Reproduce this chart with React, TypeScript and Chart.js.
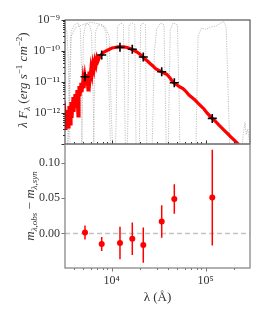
import React, { useEffect, useRef } from 'react';
import { Chart, registerables } from 'chart.js';

Chart.register(...registerables);

// ---------- canvas / panel geometry ----------
const W = 266;
const H = 319;
const AREA_LEFT = 65;
const AREA_RIGHT = 250;
const TOP_PANEL_TOP = 20;
const PANEL_SPLIT = 144;
const BOTTOM_PANEL_BOTTOM = 268;

// ---------- axis limits ----------
const xMin = 3186;
const xMax = 296000;
const fluxMin = 1.0e-13;
const fluxMax = 1.0e-9;
const resMin = -0.049;
const resMax = 0.127;

// ---------- ticks ----------
const xMajorTicks = [1e4, 1e5];
const xTickLabels = ['10⁴', '10⁵'];
const xMinorTicks = [4000, 5000, 6000, 7000, 8000, 9000, 20000, 30000, 40000, 50000, 60000, 70000, 80000, 90000, 200000];
const fluxMajorTicks = [1e-13, 1e-12, 1e-11, 1e-10, 1e-9];
const fluxTickLabels = ['', '10⁻¹²', '10⁻¹¹', '10⁻¹⁰', '10⁻⁹'];
const fluxMinorTicks = [
  2e-13, 3e-13, 4e-13, 5e-13, 6e-13, 7e-13, 8e-13, 9e-13,
  2e-12, 3e-12, 4e-12, 5e-12, 6e-12, 7e-12, 8e-12, 9e-12,
  2e-11, 3e-11, 4e-11, 5e-11, 6e-11, 7e-11, 8e-11, 9e-11,
  2e-10, 3e-10, 4e-10, 5e-10, 6e-10, 7e-10, 8e-10, 9e-10,
];
const resTicks = [0, 0.05, 0.1];
const resTickLabels = ['0.00', '0.05', '0.10'];

// ---------- photometry (crosses) ----------
const photWave = [5200, 7830, 12250, 16560, 21680, 34040, 46360, 117500];
const photFlux = [1.48e-11, 7.4e-11, 1.31e-10, 1.14e-10, 6.4e-11, 2.15e-11, 9.5e-12, 6.7e-13];

// ---------- residuals ----------
const resValue = [0.0014, -0.015, -0.0136, -0.0075, -0.0165, 0.017, 0.049, 0.051];
const resError = [0.010, 0.010, 0.023, 0.023, 0.025, 0.023, 0.021, 0.068];

// ---------- model spectrum ----------
const modelWave = [
  3109, 3186, 3265, 3346, 3429, 3513, 3602, 3690, 3782, 3876, 3972, 4071, 4172, 4275, 4381, 4489,
  4601, 4715, 4831, 4952, 5074, 5200, 5329, 5461, 5597, 5735, 5877, 6023, 6172, 6325, 6482, 6642,
  6808, 6976, 7150, 7508, 7886, 8282, 8697, 9134, 9592, 10074, 10842, 11668, 12559, 13520, 14550,
  15650, 16850, 18130, 19520, 21010, 22610, 24330, 25550, 27500, 29600, 31860, 33460, 36010, 38760,
  41710, 43810, 46010, 49520, 53300, 57370, 61720, 66430, 71500, 76950, 82810, 89130, 95920, 103230,
  111100, 119600, 128700, 138500, 149100, 160400, 172700, 185800, 200000, 215300, 226100,
];
const modelFlux = [
  5.13e-13, 8.61e-13, 2.83e-13, 1.25e-12, 3.53e-13, 1.68e-12, 4.42e-13, 2.26e-12, 6.9e-13, 3.28e-12,
  1.08e-12, 4.1e-12, 1.45e-12, 5.52e-12, 8.0e-13, 7.43e-12, 3.53e-12, 9.29e-12, 4.75e-12, 1.16e-11,
  6.4e-12, 1.45e-11, 8.61e-12, 1.81e-11, 5.52e-12, 2.18e-11, 1.25e-11, 2.83e-11, 1.81e-11, 3.81e-11,
  2.62e-11, 4.75e-11, 3.53e-11, 5.94e-11, 4.75e-11, 6.9e-11, 8.0e-11, 9.29e-11, 1.0e-10, 1.08e-10,
  1.16e-10, 1.25e-10, 1.3e-10, 1.35e-10, 1.35e-10, 1.35e-10, 1.3e-10, 1.2e-10, 1.08e-10, 9.64e-11,
  8.3e-11, 6.9e-11, 5.52e-11, 4.58e-11, 3.95e-11, 3.28e-11, 2.62e-11, 2.35e-11, 2.18e-11, 1.95e-11,
  1.75e-11, 1.35e-11, 1.08e-11, 9.29e-12, 8.0e-12, 6.9e-12, 6.17e-12, 4.94e-12, 3.81e-12, 3.16e-12,
  2.62e-12, 2.1e-12, 1.68e-12, 1.35e-12, 1.0e-12, 8.0e-13, 6.4e-13, 5.13e-13, 4.1e-13, 3.28e-13,
  2.62e-13, 2.1e-13, 1.68e-13, 1.35e-13, 1.08e-13, 9.29e-14,
];

// ---------- filter transmission curves (scaled) ----------
const filterUWave = [3000, 3200, 3350, 3450, 3520, 3600, 3700];
const filterUFlux = [7e-10, 6e-10, 4e-10, 6e-11, 2e-12, 1e-13, 1e-14];
const filterBWave = [3300, 3500, 3600, 3700, 4000, 4400, 4650, 4780, 4850, 4950];
const filterBFlux = [1e-14, 1e-12, 5e-11, 4e-10, 7e-10, 8e-10, 5e-10, 2e-11, 1e-13, 1e-14];
const filterGWave = [3300, 3550, 3700, 4200, 6000, 8000, 8700, 9300, 9700, 10200];
const filterGFlux = [1e-14, 1e-12, 3e-10, 6e-10, 8.5e-10, 7e-10, 4e-10, 1e-11, 1e-13, 1e-14];
const filterVWave = [4700, 4850, 5000, 5300, 5800, 6100, 6300, 6500, 6700];
const filterVFlux = [1e-14, 1e-12, 3e-10, 7.5e-10, 7e-10, 4e-10, 1e-11, 1e-13, 1e-14];
const filterIWave = [6300, 6500, 6700, 7200, 8500, 9400, 9900, 10200, 10500];
const filterIFlux = [1e-14, 1e-12, 4e-10, 7e-10, 6e-10, 3e-10, 1e-12, 1e-13, 1e-14];
const filterJWave = [10800, 11200, 11500, 12500, 13300, 13800, 14200];
const filterJFlux = [1e-14, 1e-12, 6e-10, 8e-10, 7e-10, 1e-12, 1e-14];
const filterHWave = [14500, 14900, 15300, 16500, 17600, 18000, 18300];
const filterHFlux = [1e-14, 1e-12, 7e-10, 8e-10, 7e-10, 1e-12, 1e-14];
const filterKWave = [19500, 19900, 20300, 21500, 22900, 23400, 23800];
const filterKFlux = [1e-14, 1e-12, 7e-10, 8e-10, 7e-10, 1e-12, 1e-14];
const filterW1Wave = [26500, 27500, 28500, 30000, 33000, 36000, 37500, 38500];
const filterW1Flux = [1e-14, 1e-12, 1e-10, 5e-10, 8e-10, 7e-10, 1e-12, 1e-14];
const filterW2Wave = [39500, 40500, 42000, 45000, 50000, 52500, 53500];
const filterW2Flux = [1e-14, 1e-12, 5e-10, 8e-10, 7e-10, 1e-12, 1e-14];
const filterW3Wave = [78000, 80000, 83000, 90000, 100000, 115000, 130000, 145000, 155000, 165000, 172000, 180000, 190000];
const filterW3Flux = [1e-14, 1e-12, 3e-10, 5.5e-10, 5e-10, 6e-10, 6.5e-10, 8e-10, 9e-10, 6e-10, 1e-11, 1e-13, 1e-14];
const filterW4Wave = [200000, 230000, 245000, 255000, 262000, 270000, 280000, 296000];
const filterW4Flux = [1e-14, 1e-14, 1e-13, 3e-13, 5e-13, 2e-13, 3e-13, 1e-13];

const filterWaves = [filterUWave, filterBWave, filterGWave, filterVWave, filterIWave, filterJWave, filterHWave, filterKWave, filterW1Wave, filterW2Wave, filterW3Wave, filterW4Wave];
const filterFluxes = [filterUFlux, filterBFlux, filterGFlux, filterVFlux, filterIFlux, filterJFlux, filterHFlux, filterKFlux, filterW1Flux, filterW2Flux, filterW3Flux, filterW4Flux];

// ---------- style ----------
const FONT = "'Liberation Serif', 'DejaVu Serif', serif";
const TEXT = '#333333';

type Part = { t: string; size: number; italic?: boolean; dy?: number };

function drawRich(ctx: CanvasRenderingContext2D, parts: Part[], x: number, y: number, vertical: boolean) {
  ctx.save();
  ctx.translate(x, y);
  if (vertical) ctx.rotate(-Math.PI / 2);
  ctx.fillStyle = TEXT;
  ctx.textBaseline = 'alphabetic';
  ctx.textAlign = 'left';
  const fontOf = (p: Part) => `${p.italic ? 'italic ' : ''}${p.size}px ${FONT}`;
  let total = 0;
  for (const p of parts) {
    ctx.font = fontOf(p);
    total += ctx.measureText(p.t).width;
  }
  let cx = -total / 2;
  for (const p of parts) {
    ctx.font = fontOf(p);
    ctx.fillText(p.t, cx, p.dy || 0);
    cx += ctx.measureText(p.t).width;
  }
  ctx.restore();
}

type TickSpec = {
  axis: 'x' | 'y';
  major: number[];
  minor: number[];
  dir: number;
  color: string;
};

function axesPlugin(id: string, specs: TickSpec[], frameColor: string, frameWidth: number, titles: (ctx: CanvasRenderingContext2D) => void) {
  return {
    id,
    afterDraw(chart: any) {
      const ctx: CanvasRenderingContext2D = chart.ctx;
      const a = chart.chartArea;
      ctx.save();
      for (const s of specs) {
        const scale = chart.scales[s.axis];
        ctx.strokeStyle = s.color;
        ctx.lineWidth = 1;
        const groups: [number[], number][] = [[s.major, 3.5], [s.minor, 2]];
        for (const [vals, len] of groups) {
          for (const v of vals) {
            if (v < scale.min || v > scale.max) continue;
            const p = Math.round(scale.getPixelForValue(v)) + 0.5;
            ctx.beginPath();
            if (s.axis === 'x') {
              ctx.moveTo(p, a.bottom);
              ctx.lineTo(p, a.bottom + s.dir * len);
            } else {
              ctx.moveTo(a.left, p);
              ctx.lineTo(a.left + s.dir * len, p);
            }
            ctx.stroke();
          }
        }
      }
      ctx.strokeStyle = frameColor;
      ctx.lineWidth = frameWidth;
      ctx.strokeRect(a.left, a.top, a.right - a.left, a.bottom - a.top);
      titles(ctx);
      ctx.restore();
    },
  };
}

export default function App() {
  const topRef = useRef<HTMLCanvasElement>(null);
  const botRef = useRef<HTMLCanvasElement>(null);

  useEffect(() => {
    const filterSets = filterWaves.map((wv, k) => ({
      data: wv.map((w, i) => ({ x: w, y: filterFluxes[k][i] })),
      borderColor: 'rgba(150,150,150,0.75)',
      borderWidth: 0.8,
      borderDash: [1.2, 1.2],
      pointRadius: 0,
      fill: false,
      order: 3,
    }));

    const topChart = new Chart(topRef.current as HTMLCanvasElement, {
      type: 'line',
      data: {
        datasets: [
          ...filterSets,
          {
            data: modelWave.map((w, i) => ({ x: w, y: modelFlux[i] })),
            borderColor: '#ff0000',
            borderWidth: 3.2,
            pointRadius: 0,
            fill: false,
            order: 2,
          },
          {
            data: photWave.map((w, i) => ({ x: w, y: photFlux[i] })),
            showLine: false,
            pointStyle: 'cross',
            pointRadius: 4.5,
            borderColor: '#000000',
            borderWidth: 1.6,
            order: 1,
          },
        ] as any,
      },
      options: {
        responsive: false,
        animation: false,
        devicePixelRatio: 1,
        layout: { padding: { left: 0, right: W - AREA_RIGHT, top: TOP_PANEL_TOP, bottom: H - PANEL_SPLIT } },
        plugins: { legend: { display: false }, tooltip: { enabled: false } },
        scales: {
          x: {
            type: 'logarithmic',
            min: xMin,
            max: xMax,
            grid: { display: false, drawTicks: false },
            border: { display: false },
            ticks: { display: false },
            afterFit: (s: any) => { s.height = 0; },
          },
          y: {
            type: 'logarithmic',
            min: fluxMin,
            max: fluxMax,
            grid: { display: false, drawTicks: false },
            border: { display: false },
            afterBuildTicks: (ax: any) => { ax.ticks = fluxMajorTicks.map((v) => ({ value: v })); },
            ticks: {
              autoSkip: false,
              padding: 5,
              color: TEXT,
              font: { family: FONT, size: 12 },
              callback: (v: any) => {
                const i = fluxMajorTicks.indexOf(Number(v));
                return i >= 0 ? fluxTickLabels[i] : '';
              },
            },
            afterFit: (s: any) => { s.width = AREA_LEFT; },
          },
        },
      } as any,
      plugins: [
        axesPlugin('topAxes', [
          { axis: 'x', major: xMajorTicks, minor: xMinorTicks, dir: -1, color: '#333' },
          { axis: 'y', major: fluxMajorTicks, minor: fluxMinorTicks, dir: -1, color: '#333' },
        ], '#333333', 1, (ctx) => {
          drawRich(ctx, [
            { t: 'λ ', size: 13, italic: true },
            { t: 'F', size: 13, italic: true },
            { t: 'λ', size: 9, italic: true, dy: 2.5 },
            { t: ' (', size: 13 },
            { t: 'erg s', size: 13, italic: true },
            { t: '−1', size: 9, dy: -5 },
            { t: ' cm', size: 13, italic: true },
            { t: '−2', size: 9, dy: -5 },
            { t: ')', size: 13 },
          ], 27, 80, true);
        }),
      ],
    });

    const errData: any[] = [];
    photWave.forEach((w, i) => {
      errData.push({ x: w, y: resValue[i] - resError[i] });
      errData.push({ x: w, y: resValue[i] + resError[i] });
      errData.push({ x: w, y: null });
    });

    const botChart = new Chart(botRef.current as HTMLCanvasElement, {
      type: 'line',
      data: {
        datasets: [
          {
            data: [{ x: xMin, y: 0 }, { x: xMax, y: 0 }],
            borderColor: '#c4c4c4',
            borderWidth: 1.4,
            borderDash: [5, 3],
            pointRadius: 0,
            order: 3,
          },
          {
            data: errData,
            borderColor: '#ff0000',
            borderWidth: 1.5,
            pointRadius: 0,
            spanGaps: false,
            order: 2,
          },
          {
            data: photWave.map((w, i) => ({ x: w, y: resValue[i] })),
            showLine: false,
            pointStyle: 'circle',
            pointRadius: 3,
            backgroundColor: '#ff0000',
            borderWidth: 0,
            order: 1,
          },
        ] as any,
      },
      options: {
        responsive: false,
        animation: false,
        devicePixelRatio: 1,
        layout: { padding: { left: 0, right: W - AREA_RIGHT, top: PANEL_SPLIT, bottom: 0 } },
        plugins: { legend: { display: false }, tooltip: { enabled: false } },
        scales: {
          x: {
            type: 'logarithmic',
            min: xMin,
            max: xMax,
            grid: { display: false, drawTicks: false },
            border: { display: false },
            afterBuildTicks: (ax: any) => { ax.ticks = xMajorTicks.map((v) => ({ value: v })); },
            ticks: {
              autoSkip: false,
              maxRotation: 0,
              padding: 6,
              color: TEXT,
              font: { family: FONT, size: 12 },
              callback: (v: any) => {
                const i = xMajorTicks.indexOf(Number(v));
                return i >= 0 ? xTickLabels[i] : '';
              },
            },
            afterFit: (s: any) => { s.height = H - BOTTOM_PANEL_BOTTOM; },
          },
          y: {
            type: 'linear',
            min: resMin,
            max: resMax,
            grid: { display: false, drawTicks: false },
            border: { display: false },
            afterBuildTicks: (ax: any) => { ax.ticks = resTicks.map((v) => ({ value: v })); },
            ticks: {
              autoSkip: false,
              padding: 5,
              color: TEXT,
              font: { family: FONT, size: 12 },
              callback: (v: any) => {
                const i = resTicks.indexOf(Number(v));
                return i >= 0 ? resTickLabels[i] : '';
              },
            },
            afterFit: (s: any) => { s.width = AREA_LEFT; },
          },
        },
      } as any,
      plugins: [
        axesPlugin('botAxes', [
          { axis: 'x', major: xMajorTicks, minor: xMinorTicks, dir: 1, color: '#777' },
          { axis: 'y', major: resTicks, minor: [], dir: -1, color: '#777' },
        ], '#888888', 1.3, (ctx) => {
          drawRich(ctx, [
            { t: 'm', size: 13, italic: true },
            { t: 'λ,obs', size: 9, italic: true, dy: 3 },
            { t: ' − ', size: 13 },
            { t: 'm', size: 13, italic: true },
            { t: 'λ,syn', size: 9, italic: true, dy: 3 },
          ], 33.5, 206, true);
          drawRich(ctx, [{ t: 'λ (Å)', size: 13 }], (AREA_LEFT + AREA_RIGHT) / 2, 301, false);
        }),
      ],
    });

    return () => {
      topChart.destroy();
      botChart.destroy();
    };
  }, []);

  const canvasStyle: React.CSSProperties = { position: 'absolute', left: 0, top: 0, width: W, height: H };
  return (
    <div style={{ position: 'absolute', left: 0, top: 0, width: W, height: H, background: '#fff' }}>
      <canvas ref={topRef} width={W} height={H} style={canvasStyle} />
      <canvas ref={botRef} width={W} height={H} style={canvasStyle} />
    </div>
  );
}
